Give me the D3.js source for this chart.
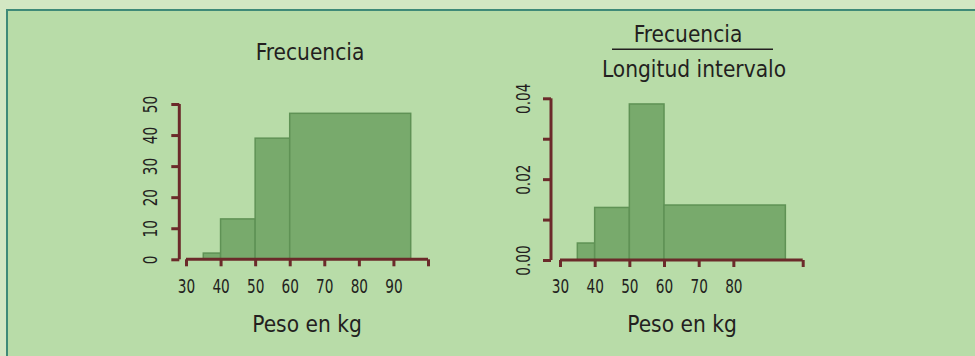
<!DOCTYPE html>
<html><head><meta charset="utf-8">
<script src="https://cdn.jsdelivr.net/npm/d3@7"></script>
<style>
html,body{margin:0;padding:0;background:#d3e7c3;}
svg{display:block;}
</style></head>
<body><svg id="c" width="975" height="356"></svg>
<script>
// Data
const binStarts = [35, 40, 50, 60];
const binEnds = [40, 50, 60, 95];
const frequencies = [2, 13, 39, 47];
const densities = [0.0042, 0.013, 0.0386, 0.0136];
const leftXTicks = [30, 40, 50, 60, 70, 80, 90, 100];
const leftXLabels = ["30", "40", "50", "60", "70", "80", "90", ""];
const rightXTicks = [30, 40, 50, 60, 70, 80, 100];
const rightXLabels = ["30", "40", "50", "60", "70", "80", ""];
const leftYTicks = [0, 10, 20, 30, 40, 50];
const rightYTicks = [0, 0.01, 0.02, 0.03, 0.04];
const rightYLabels = ["0.00", "", "0.02", "", "0.04"];

const svg = d3.select("#c");
const AX = "#6b2a2a", FILL = "#78aa6c", STROKE = "#5f9255", TXT = "#231f20";
const font = "'DejaVu Sans Condensed','DejaVu Sans',sans-serif";
const SX = 0.76;

// panel
svg.append("rect").attr("x", 0).attr("y", 0).attr("width", 975).attr("height", 356).attr("fill", "#d3e7c3");
svg.append("rect").attr("x", 7).attr("y", 10).attr("width", 975).attr("height", 356)
  .attr("fill", "#b8dca8").attr("stroke", "#3f8a78").attr("stroke-width", 2);

function panel(opts) {
  const g = svg.append("g");
  const x = d3.scaleLinear().domain([30, 100]).range(opts.xr);
  const y = d3.scaleLinear().domain(opts.yd).range(opts.yr);
  // bars
  g.selectAll("rect.bar").data(opts.vals).join("rect").attr("class", "bar")
    .attr("x", (d, i) => x(binStarts[i]))
    .attr("width", (d, i) => x(binEnds[i]) - x(binStarts[i]))
    .attr("y", d => y(d))
    .attr("height", d => y(0) - y(d))
    .attr("fill", FILL).attr("stroke", STROKE).attr("stroke-width", 1.5);
  // x axis
  const xa = g.append("g").attr("transform", `translate(0,${opts.xAxisY})`)
    .call(d3.axisBottom(x).tickValues(opts.xt).tickSize(7).tickSizeOuter(0)
      .tickFormat((d, i) => opts.xl[i]));
  xa.select(".domain").attr("stroke", AX).attr("stroke-width", 3)
    .attr("d", `M${x(opts.xt[0])},0H${x(opts.xt[opts.xt.length - 1])}`);
  xa.selectAll(".tick line").attr("stroke", AX).attr("stroke-width", 3);
  xa.selectAll(".tick text").attr("y", 0).attr("dy", 0)
    .attr("transform", `translate(0,33.4) scale(${SX},1)`)
    .attr("font-family", font).attr("font-size", 20).attr("fill", TXT);
  // y axis
  const ya = g.append("g").attr("transform", `translate(${opts.yAxisX},0)`)
    .call(d3.axisLeft(y).tickValues(opts.yt).tickSize(8).tickSizeOuter(0)
      .tickFormat((d, i) => opts.yl[i]));
  ya.select(".domain").attr("stroke", AX).attr("stroke-width", 3)
    .attr("d", `M0,${y(opts.yt[0])}V${y(opts.yt[opts.yt.length - 1])}`);
  ya.selectAll(".tick line").attr("stroke", AX).attr("stroke-width", 3);
  ya.selectAll(".tick text").attr("x", 0).attr("dy", 0)
    .attr("transform", `translate(${opts.yLabelX},0) rotate(-90) scale(${SX},1)`)
    .attr("text-anchor", "middle")
    .attr("font-family", font).attr("font-size", 20).attr("fill", TXT);
  // x label
  label(opts.xlabX, 332, "Peso en kg");
}

function label(x, y, t) {
  svg.append("text").attr("x", x).attr("y", y).attr("text-anchor", "middle")
    .attr("font-family", font).attr("font-size", 22.5)
    .attr("fill", TXT).text(t);
}

panel({
  xr: [186, 428], yd: [0, 50], yr: [259.3, 104], vals: frequencies,
  xt: leftXTicks, xl: leftXLabels, yt: leftYTicks, yl: leftYTicks.map(String),
  xAxisY: 259.3, yAxisX: 179.3, yLabelX: -22.5, xlabX: 307
});
panel({
  xr: [560, 802.7], yd: [0, 0.04], yr: [260, 98.3], vals: densities,
  xt: rightXTicks, xl: rightXLabels, yt: rightYTicks, yl: rightYLabels,
  xAxisY: 260, yAxisX: 551, yLabelX: -21, xlabX: 682
});

// titles
label(310, 60, "Frecuencia");
label(688, 42, "Frecuencia");
svg.append("line").attr("x1", 612).attr("x2", 773).attr("y1", 49.3).attr("y2", 49.3)
  .attr("stroke", TXT).attr("stroke-width", 1.5);
label(694, 77, "Longitud intervalo");
</script></body></html>
